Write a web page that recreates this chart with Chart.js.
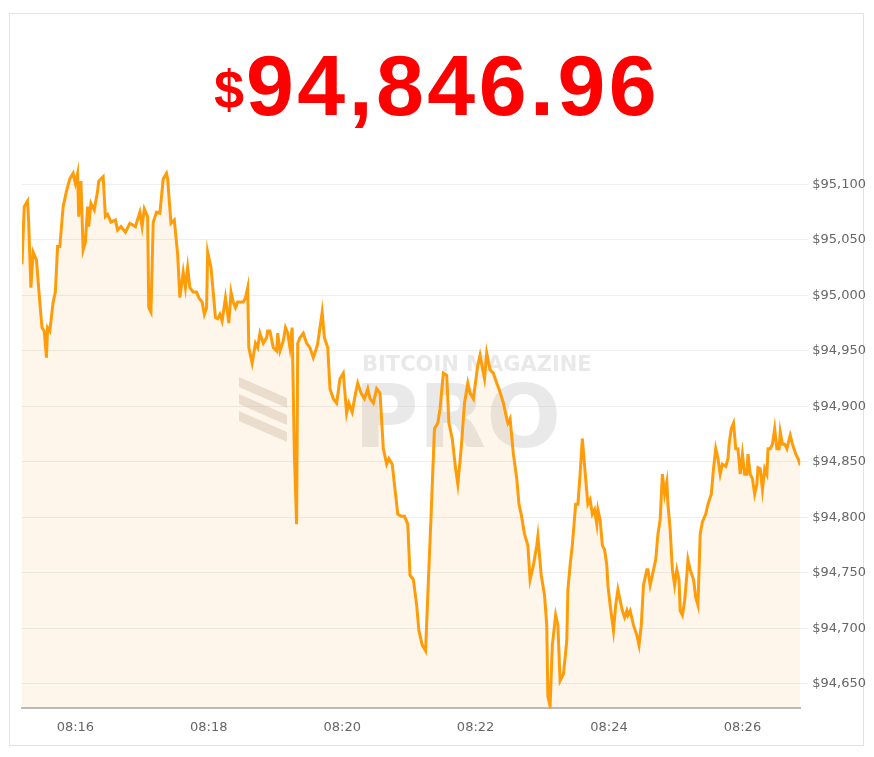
<!DOCTYPE html>
<html><head><meta charset="utf-8">
<script src="https://cdn.jsdelivr.net/npm/chart.js@4/dist/chart.umd.min.js"></script>
<style>
body{margin:0;background:#fff;width:874px;height:757px;position:relative;overflow:hidden;font-family:"Liberation Sans",Arial,sans-serif}
#box{position:absolute;left:9px;top:13px;width:855px;height:733px;border:1px solid #e3e3e3;box-sizing:border-box}
#title{position:absolute;left:0;width:874px;top:30px;text-align:center;color:#f00;font-weight:bold;font-size:86px;line-height:110px;letter-spacing:3.5px}
#title span{font-size:54px;vertical-align:7px;letter-spacing:2px}
#wrap{position:absolute;left:9px;top:140px;width:865px;height:600px}
</style></head><body>
<div id="box"></div>
<div id="title"><span>$</span>94,846.96</div>
<div id="wrap"><canvas id="c"></canvas></div>
<script>
const startSec = 912, endSec = 1612;
const tickTimes = [960,1080,1200,1320,1440,1560];
const priceTicks = [94650,94700,94750,94800,94850,94900,94950,95000,95050,95100];
const times = [912,914,917,918,920,922,925,928,930,932,934,935,937,940,942,944,946,949,952,955,958,960,962,963,965,967,969,971,972,974,977,980,981,985,987,989,992,996,998,1001,1005,1009,1014,1018,1020,1022,1025,1026,1028,1030,1033,1036,1039,1042,1043,1046,1049,1052,1054,1057,1059,1061,1063,1066,1069,1071,1074,1076,1078,1079,1082,1084,1086,1088,1090,1092,1095,1097,1098,1100,1102,1104,1106,1108,1111,1113,1115,1116,1119,1122,1124,1126,1129,1132,1133,1135,1138,1141,1142,1144,1147,1149,1151,1153,1155,1157,1159,1160,1162,1165,1168,1171,1174,1177,1178,1180,1182,1184,1187,1189,1192,1195,1198,1201,1204,1206,1209,1212,1214,1217,1220,1223,1225,1228,1231,1234,1237,1240,1242,1245,1248,1250,1253,1256,1259,1261,1264,1267,1269,1272,1275,1277,1280,1283,1286,1288,1291,1294,1296,1299,1302,1304,1307,1310,1313,1315,1318,1321,1322,1324,1326,1328,1330,1333,1336,1339,1341,1345,1348,1349,1351,1354,1357,1359,1361,1364,1367,1369,1372,1375,1376,1379,1382,1384,1385,1387,1389,1392,1394,1396,1399,1402,1403,1405,1407,1410,1412,1414,1416,1419,1421,1423,1425,1427,1429,1430,1432,1434,1436,1438,1439,1441,1444,1446,1448,1449,1452,1454,1456,1457,1459,1462,1465,1467,1469,1471,1474,1475,1477,1479,1482,1484,1486,1488,1490,1492,1493,1495,1497,1499,1501,1503,1504,1506,1508,1510,1511,1513,1516,1518,1520,1522,1524,1527,1529,1532,1534,1536,1538,1540,1542,1545,1547,1548,1550,1552,1554,1556,1558,1560,1562,1564,1565,1567,1569,1571,1573,1574,1576,1578,1580,1582,1583,1585,1587,1589,1591,1593,1594,1596,1598,1600,1601,1603,1605,1608,1610,1612];
const prices = [95028,95080,95085,95066,95007,95039,95032,94994,94971,94968,94944,94971,94968,94994,95003,95044,95044,95080,95094,95105,95110,95101,95110,95071,95103,95041,95048,95080,95062,95083,95077,95094,95103,95107,95071,95073,95066,95068,95059,95062,95057,95065,95062,95075,95062,95078,95071,94989,94985,95066,95075,95074,95105,95110,95105,95065,95068,95037,94998,95021,95007,95025,95007,95003,95003,94998,94994,94983,94989,95039,95025,95003,94980,94979,94983,94977,94998,94983,94975,95003,94994,94989,94994,94994,94994,94998,95007,94953,94939,94957,94953,94966,94957,94962,94968,94968,94953,94950,94966,94950,94959,94971,94966,94953,94971,94857,94794,94957,94962,94966,94957,94953,94944,94953,94957,94971,94985,94962,94953,94916,94907,94903,94925,94930,94894,94903,94895,94912,94921,94912,94907,94916,94907,94903,94916,94912,94862,94848,94853,94848,94821,94803,94801,94801,94794,94748,94744,94721,94698,94685,94680,94730,94803,94880,94885,94898,94930,94928,94885,94871,94844,94830,94862,94903,94921,94912,94907,94930,94937,94946,94935,94925,94948,94933,94930,94921,94916,94903,94889,94885,94889,94857,94835,94812,94803,94785,94775,94744,94757,94775,94783,94748,94730,94703,94639,94630,94685,94712,94703,94653,94659,94689,94735,94757,94775,94812,94812,94839,94871,94835,94812,94816,94803,94807,94794,94807,94798,94775,94771,94757,94739,94721,94698,94721,94735,94730,94716,94710,94716,94712,94716,94703,94694,94685,94703,94739,94753,94753,94739,94748,94762,94785,94798,94839,94821,94832,94812,94789,94753,94739,94753,94744,94716,94712,94725,94748,94762,94753,94744,94728,94721,94785,94796,94803,94812,94821,94844,94862,94853,94839,94848,94846,94853,94866,94880,94885,94862,94862,94839,94857,94839,94839,94857,94839,94835,94821,94830,94845,94844,94825,94844,94839,94862,94862,94866,94880,94862,94862,94877,94866,94866,94862,94866,94874,94866,94857,94853,94847];
const n = Math.min(times.length, prices.length);
const pts = []; for (let i=0;i<n;i++) pts.push({x:times[i], y:prices[i]});
const fmtT = s => '08:' + String(Math.floor(s/60)).padStart(2,'0');
const watermark = {id:'wm', beforeDatasetsDraw(ch){const c=ch.ctx;c.save();c.fillStyle='rgba(200,200,200,0.4)';c.textAlign='left';
 c.font='bold 21px "DejaVu Sans"';c.fillText('BITCOIN MAGAZINE',353,231);
 c.font='bold 88px "DejaVu Sans"';c.fillText('PRO',345,307);
 c.fillStyle='rgba(190,175,160,0.35)';
 for(let k=0;k<3;k++){c.beginPath();c.moveTo(230,237+k*17);c.lineTo(278,258+k*17);c.lineTo(278,268+k*17);c.lineTo(230,247+k*17);c.fill();}
 c.restore();}};
new Chart(document.getElementById('c'),{type:'line',
 data:{datasets:[{data:pts,borderColor:'#ff9c0a',borderWidth:3,backgroundColor:'rgba(255,170,60,0.1)',fill:'start',pointRadius:0,tension:0}]},
 options:{responsive:true,maintainAspectRatio:false,animation:false,
  layout:{padding:{left:13,right:4,top:20,bottom:2}},
  plugins:{legend:{display:false},tooltip:{enabled:false}},
  scales:{
   x:{type:'linear',min:startSec,max:endSec,afterBuildTicks:a=>{a.ticks=tickTimes.map(v=>({value:v}));},
      ticks:{callback:v=>fmtT(v),color:'#666',font:{family:'DejaVu Sans',size:13},maxRotation:0},
      grid:{display:false},border:{color:'#bbb',width:2}},
   y:{position:'right',min:94628,max:95122,afterBuildTicks:a=>{a.ticks=priceTicks.map(v=>({value:v}));},
      ticks:{callback:v=>'$'+v.toLocaleString('en-US'),color:'#666',font:{family:'DejaVu Sans',size:13},padding:4},
      grid:{color:'#eee'},border:{display:false}}
  }},plugins:[watermark]});
</script></body></html>
